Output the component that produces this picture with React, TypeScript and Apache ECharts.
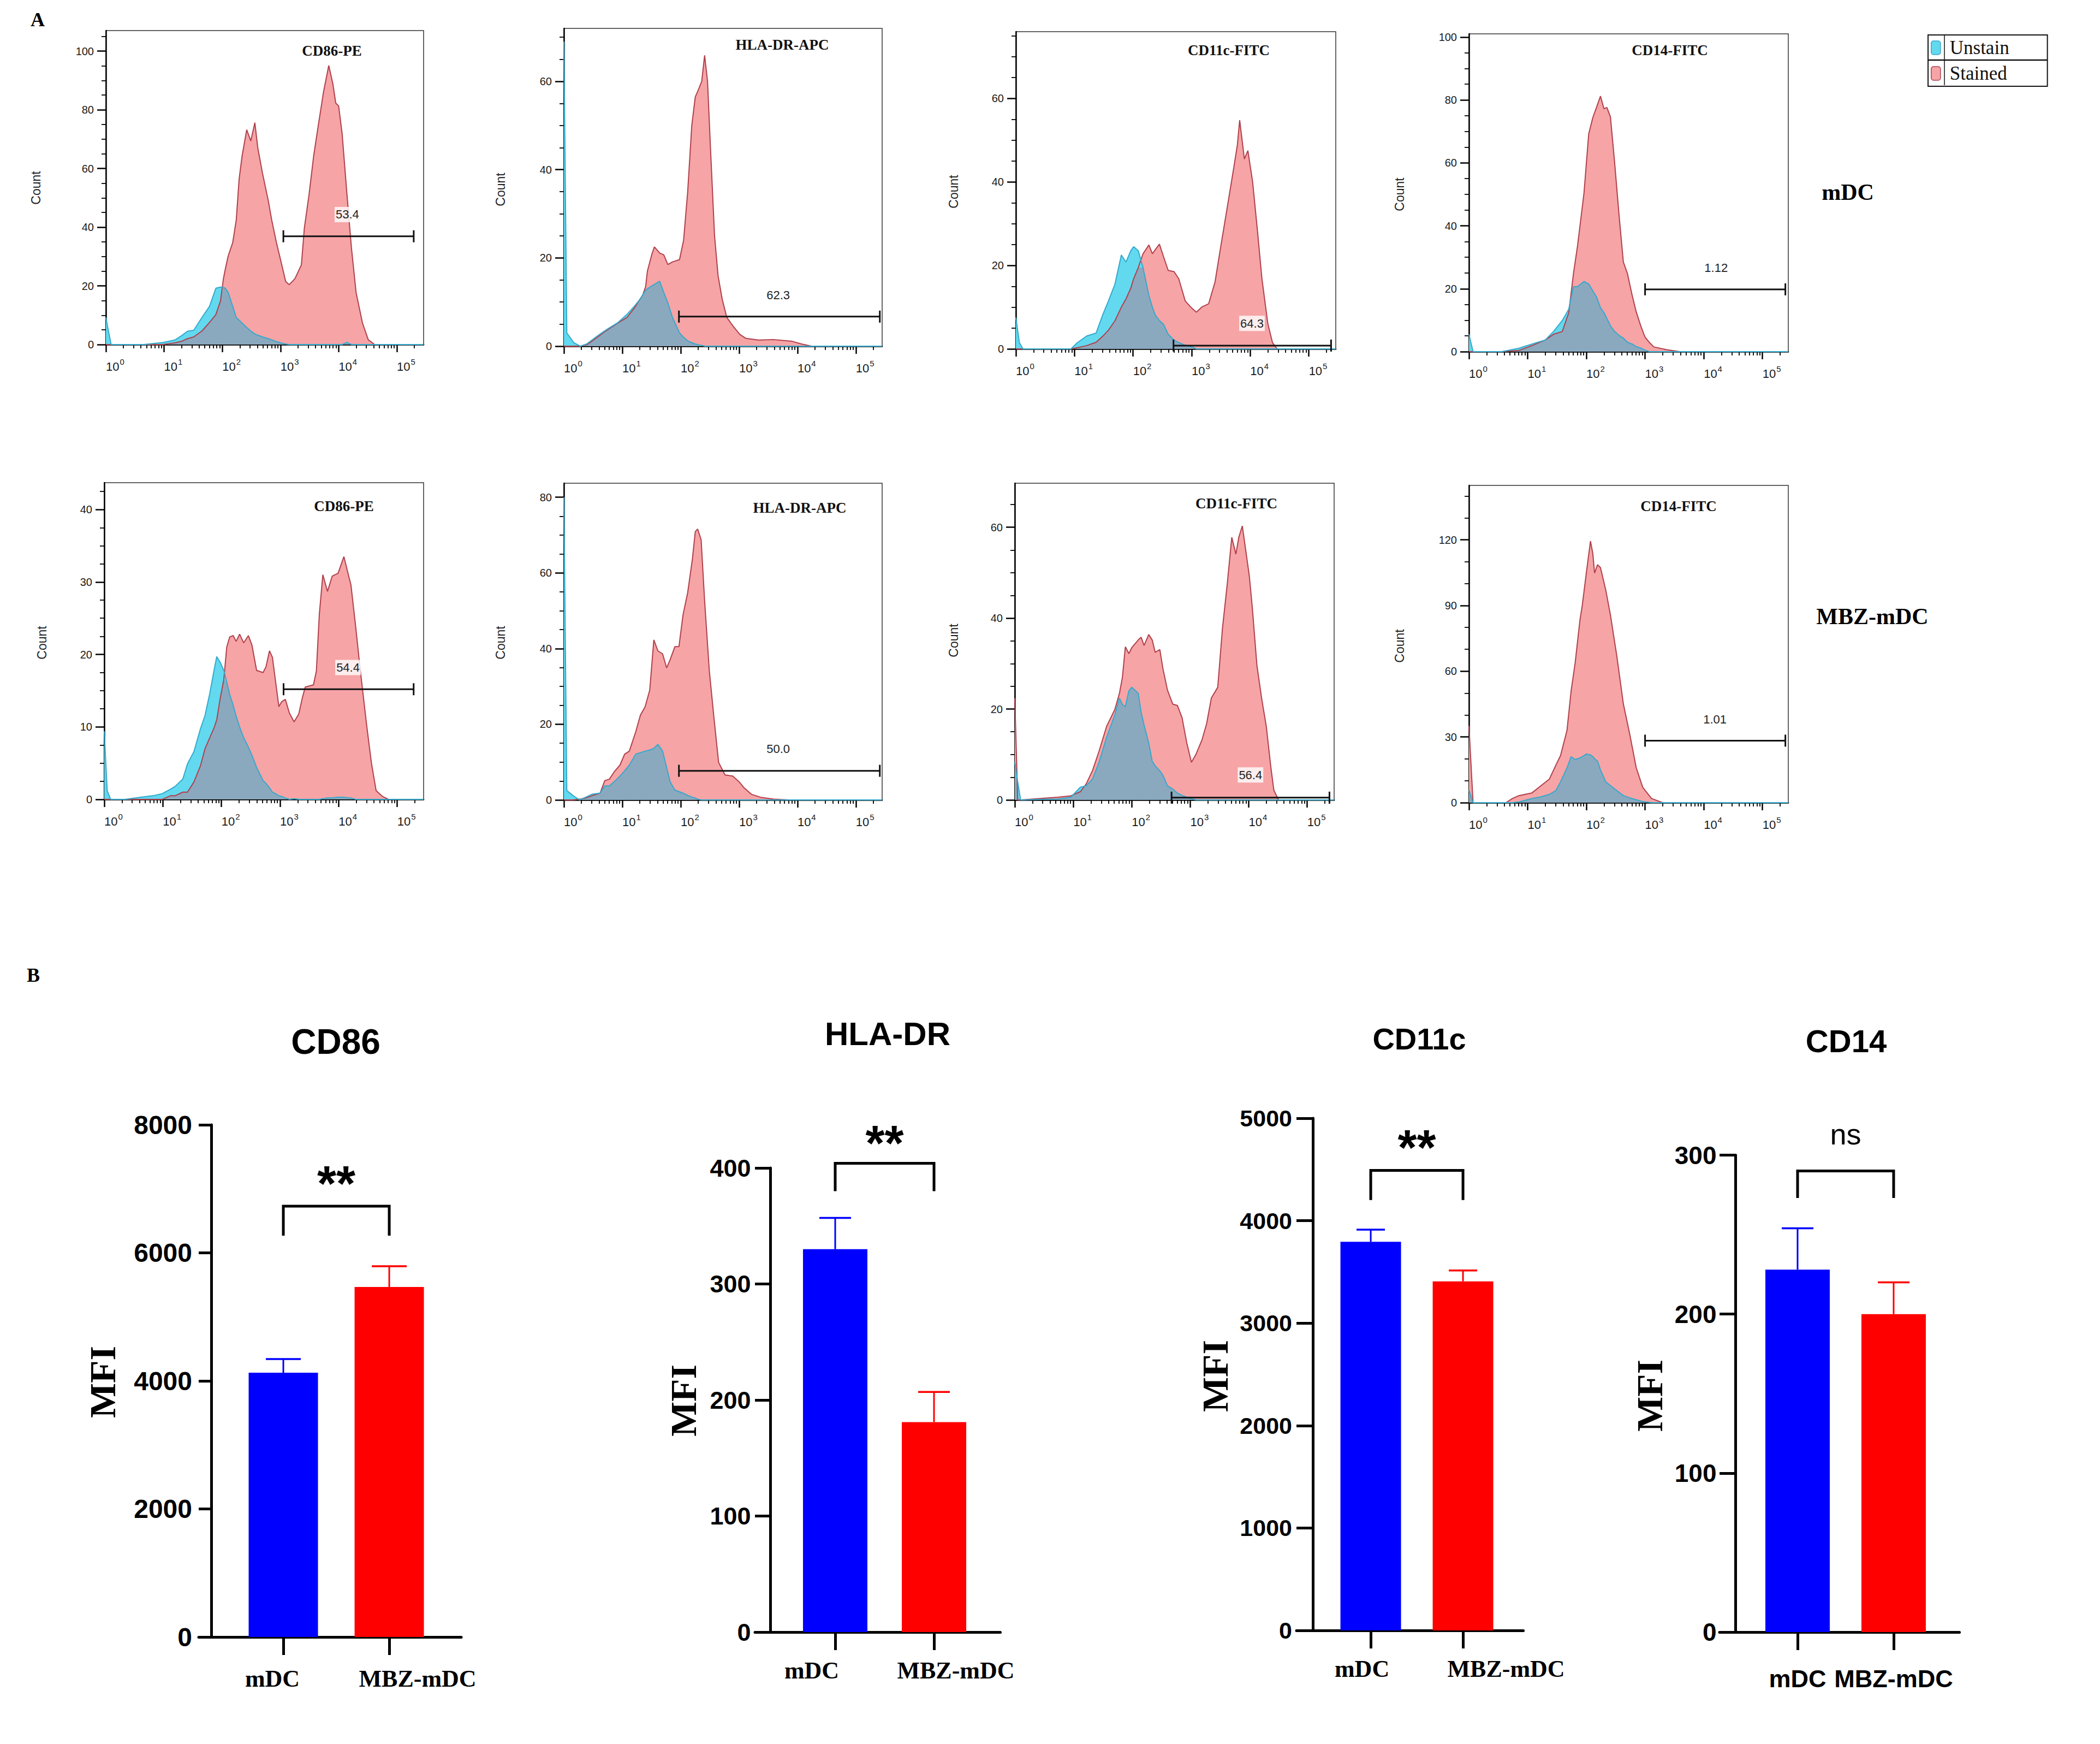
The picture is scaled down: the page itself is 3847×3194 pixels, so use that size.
import React, { useEffect, useRef } from 'react';
import * as echarts from 'echarts';

const SANS = "'Liberation Sans', Arial, Helvetica, sans-serif";
const SERIF = "'Liberation Serif', 'Times New Roman', Times, serif";

// ================= Panel A : flow cytometry histograms =================
const PANEL_LETTERS = ['A', 'B'];
const HIST_TITLES = ['CD86-PE', 'HLA-DR-APC', 'CD11c-FITC', 'CD14-FITC', 'CD86-PE', 'HLA-DR-APC', 'CD11c-FITC', 'CD14-FITC'];
const ROW_LABELS = ['mDC', 'MBZ-mDC'];
const LEGEND_NAMES = ['Unstain', 'Stained'];
const HIST_Y_NAME = 'Count';
const DECADE_TICKS = [0, 1, 2, 3, 4, 5];
const DECADE_EXPONENTS = ['0', '1', '2', '3', '4', '5'];

// x = log10(fluorescence), counts
const H1_X = [0, 0.04, 0.09, 0.65, 0.98, 1.19, 1.3, 1.4, 1.51, 1.65, 1.78, 1.89, 1.97, 2.02, 2.05, 2.1, 2.18, 2.24, 2.29, 2.34, 2.42, 2.49, 2.56, 2.61, 2.69, 2.79, 2.85, 2.93, 3.01, 3.09, 3.15, 3.25, 3.36, 3.41, 3.49, 3.57, 3.65, 3.74, 3.83, 3.9, 3.95, 4.0, 4.06, 4.14, 4.22, 4.3, 4.41, 4.51, 4.62, 5.46];
const H1_STAINED = [0, 0, 0, 0, 0, 0.6, 1.1, 2.0, 2.6, 4.6, 7.5, 10.2, 14.9, 22.5, 25.5, 30.1, 34.8, 42.4, 56.5, 64.2, 73.2, 69.4, 75.6, 67.1, 58.5, 49.1, 42.4, 34.8, 28.2, 21.5, 20.4, 22.5, 27.2, 39.6, 50.9, 64.2, 74.7, 86.1, 95.1, 88.9, 82.3, 81.3, 71.8, 51.9, 32.9, 17.7, 7.3, 1.6, 0, 0];
const H1_UNSTAIN = [9.2, 5.0, 0, 0, 0.7, 1.6, 3.0, 4.5, 4.9, 9.2, 13.0, 19.2, 19.6, 19.4, 19.2, 17.8, 13.0, 9.2, 8.3, 7.3, 5.8, 4.6, 3.6, 3.2, 2.6, 2.0, 1.6, 1.0, 0.5, 0.2, 0, 0, 0, 0, 0, 0, 0, 0, 0, 0, 0, 0, 0, 0.7, 0, 0, 0, 0, 0, 0];

const H2_X = [0, 0.05, 0.17, 0.28, 0.39, 0.55, 0.68, 0.76, 0.92, 1.08, 1.21, 1.29, 1.35, 1.4, 1.43, 1.51, 1.55, 1.64, 1.71, 1.78, 1.86, 1.98, 2.05, 2.12, 2.19, 2.25, 2.3, 2.36, 2.41, 2.46, 2.51, 2.58, 2.64, 2.71, 2.79, 2.9, 3.01, 3.11, 3.33, 3.59, 3.91, 4.07, 4.24, 5.45];
const H2_STAINED = [0, 0, 0, 0, 0.3, 1.8, 3.1, 3.8, 5.2, 6.5, 8.7, 10.4, 11.6, 13.5, 17.0, 21.0, 22.5, 21.1, 20.7, 18.5, 19.1, 19.6, 24.0, 35.0, 50.0, 56.5, 58.0, 60.0, 65.9, 60.0, 45.0, 25.0, 16.0, 10.7, 6.5, 4.5, 2.7, 1.8, 1.4, 1.5, 1.1, 0.5, 0, 0];
const H2_UNSTAIN = [69, 3.0, 0.8, 0, 0.5, 2.1, 3.3, 4.0, 5.3, 7.2, 9.1, 10.4, 11.6, 12.7, 13.0, 13.7, 14.0, 14.7, 12.2, 9.8, 6.5, 3.0, 2.0, 1.2, 0.8, 0.5, 0.3, 0.2, 0, 0, 0, 0, 0, 0, 0, 0, 0, 0, 0, 0, 0, 0, 0, 0];

const H3_X = [0, 0.06, 0.12, 0.94, 1.05, 1.21, 1.37, 1.48, 1.58, 1.69, 1.8, 1.88, 1.96, 2.01, 2.09, 2.17, 2.27, 2.33, 2.38, 2.45, 2.52, 2.6, 2.7, 2.78, 2.89, 3.0, 3.08, 3.18, 3.29, 3.4, 3.5, 3.61, 3.72, 3.78, 3.82, 3.9, 3.96, 4.04, 4.12, 4.2, 4.3, 4.38, 4.46, 5.46];
const H3_STAINED = [0, 0, 0, 0, 0.3, 0.8, 1.6, 3.0, 4.5, 6.7, 10.0, 12.0, 14.5, 16.8, 19.5, 22.8, 24.9, 22.8, 23.8, 25.1, 22.1, 18.8, 18.5, 16.8, 11.5, 9.8, 8.8, 10.1, 10.8, 16.1, 24.8, 34.1, 43.5, 48.8, 54.8, 45.5, 47.5, 40.1, 28.8, 16.8, 6.1, 1.5, 0, 0];
const H3_UNSTAIN = [7.5, 1.5, 0, 0, 1.5, 3.1, 3.8, 8.1, 11.5, 15.5, 22.5, 20.8, 23.5, 24.5, 23.5, 19.5, 12.8, 10.0, 8.1, 6.8, 5.9, 3.5, 2.1, 1.5, 0.9, 0.5, 0, 0, 0, 0, 0, 0, 0, 0, 0, 0, 0, 0, 0, 0, 0, 0, 0, 0];

const H4_X = [0, 0.07, 0.56, 0.85, 1.07, 1.3, 1.44, 1.59, 1.7, 1.78, 1.85, 1.96, 2.04, 2.11, 2.17, 2.24, 2.3, 2.35, 2.41, 2.48, 2.56, 2.63, 2.7, 2.78, 2.85, 2.93, 3.0, 3.07, 3.15, 3.37, 3.59, 5.44];
const H4_STAINED = [0, 0, 0, 0.4, 1.9, 3.7, 5.5, 6.4, 12.4, 24.8, 33.7, 50.5, 69.2, 74.4, 77.5, 81.2, 77.2, 77.6, 74.6, 60.4, 42.7, 28.5, 24.8, 17.9, 12.6, 8.0, 4.6, 3.0, 1.5, 0.6, 0, 0];
const H4_UNSTAIN = [5.5, 0, 0, 1.1, 2.4, 3.7, 6.4, 9.9, 13.5, 20.6, 20.7, 22.3, 21.5, 19.3, 17.5, 14.0, 12.4, 10.5, 8.2, 6.4, 5.1, 4.3, 3.0, 2.4, 1.6, 1.1, 0.5, 0, 0, 0, 0, 0];

const H5_X = [0, 0.05, 0.11, 0.35, 0.62, 0.83, 0.99, 1.13, 1.21, 1.34, 1.42, 1.53, 1.64, 1.72, 1.8, 1.88, 1.92, 1.98, 2.04, 2.09, 2.14, 2.2, 2.25, 2.31, 2.38, 2.46, 2.52, 2.6, 2.71, 2.76, 2.82, 2.87, 2.92, 2.98, 3.03, 3.09, 3.16, 3.24, 3.32, 3.38, 3.43, 3.57, 3.62, 3.67, 3.73, 3.81, 3.89, 3.99, 4.09, 4.16, 4.21, 4.29, 4.37, 4.42, 4.48, 4.56, 4.64, 4.75, 4.85, 5.45];
const H5_STAINED = [0, 0, 0, 0, 0, 0, 0, 0.5, 0.5, 1.0, 1.0, 2.4, 4.6, 7.0, 8.5, 10.0, 11.0, 14.0, 16.5, 21.0, 22.4, 22.6, 21.8, 22.8, 21.6, 22.6, 21.3, 17.8, 17.5, 18.3, 20.5, 19.6, 16.5, 12.8, 13.5, 13.8, 11.9, 10.7, 11.8, 14.0, 15.5, 15.8, 17.7, 25.5, 31.0, 28.7, 30.8, 31.2, 33.5, 31.2, 29.6, 23.9, 17.8, 14.3, 10.1, 5.0, 1.2, 0.4, 0, 0];
const H5_UNSTAIN = [9.4, 1.2, 0, 0, 0.3, 0.5, 0.8, 1.4, 1.8, 2.8, 4.9, 6.6, 9.7, 11.6, 14.6, 18.1, 19.7, 18.9, 17.8, 16.2, 14.5, 13.0, 11.5, 10.0, 8.5, 7.2, 6.1, 4.4, 2.6, 2.2, 1.6, 1.0, 0.8, 0.5, 0.4, 0.2, 0, 0.1, 0, 0, 0, 0, 0, 0, 0.1, 0.2, 0.2, 0.3, 0.3, 0.2, 0.2, 0, 0, 0, 0, 0, 0, 0, 0, 0];

const H6_X = [0, 0.05, 0.16, 0.27, 0.37, 0.48, 0.62, 0.7, 0.78, 0.86, 0.96, 1.04, 1.12, 1.23, 1.31, 1.39, 1.47, 1.54, 1.61, 1.69, 1.76, 1.82, 1.9, 1.97, 2.04, 2.12, 2.2, 2.25, 2.29, 2.35, 2.41, 2.49, 2.57, 2.65, 2.76, 2.89, 3.0, 3.08, 3.21, 3.37, 3.59, 3.86, 5.45];
const H6_STAINED = [0, 0, 0, 0.2, 0.5, 1.1, 1.8, 5.1, 5.5, 7.4, 9.2, 12.1, 12.9, 18.0, 22.4, 24.6, 29.0, 42.3, 39.4, 38.6, 34.9, 37.1, 40.5, 40.5, 48.9, 54.8, 63.6, 70.9, 71.6, 68.8, 52.6, 34.2, 21.7, 9.9, 6.6, 6.3, 4.8, 3.3, 1.5, 0.7, 0.2, 0, 0];
const H6_UNSTAIN = [80, 2.5, 1.1, 0, 0.7, 1.5, 1.8, 3.7, 3.7, 4.8, 6.3, 7.7, 9.2, 12.1, 12.5, 12.9, 13.2, 13.6, 14.7, 12.9, 8.5, 4.8, 2.6, 2.2, 1.8, 1.2, 0.7, 0.5, 0.2, 0, 0, 0, 0, 0, 0, 0, 0, 0, 0, 0, 0, 0, 0];

const H7_X = [0, 0.05, 0.1, 0.74, 0.96, 1.12, 1.22, 1.33, 1.44, 1.57, 1.71, 1.79, 1.84, 1.89, 1.95, 2.0, 2.11, 2.16, 2.21, 2.29, 2.35, 2.4, 2.48, 2.53, 2.61, 2.7, 2.78, 2.86, 2.94, 3.02, 3.1, 3.2, 3.28, 3.36, 3.47, 3.55, 3.63, 3.71, 3.78, 3.83, 3.89, 3.95, 4.01, 4.06, 4.14, 4.22, 4.3, 4.38, 4.43, 4.51, 5.46];
const H7_STAINED = [22.4, 0, 0, 0.6, 0.9, 1.8, 3.5, 6.5, 10.7, 16.2, 19.9, 23.5, 27.0, 33.7, 32.2, 33.5, 35.2, 35.8, 34.0, 36.4, 35.2, 32.5, 33.1, 29.1, 24.2, 21.1, 20.8, 18.1, 12.6, 8.3, 10.1, 13.2, 16.8, 22.4, 24.8, 37.7, 47.2, 57.8, 54.1, 57.8, 60.3, 54.8, 49.3, 42.5, 29.6, 22.4, 16.2, 7.0, 2.1, 0, 0];
const H7_UNSTAIN = [8.3, 4.0, 0, 0.2, 0.6, 2.8, 3.1, 4.6, 8.3, 13.8, 18.7, 22.4, 21.0, 20.5, 24.0, 24.8, 23.5, 19.3, 16.5, 12.5, 8.5, 7.5, 6.4, 5.5, 3.1, 2.4, 1.5, 1.0, 0.6, 0.2, 0, 0, 0, 0, 0, 0, 0, 0, 0, 0, 0, 0, 0, 0, 0, 0, 0, 0, 0, 0, 0];

const H8_X = [0, 0.07, 0.63, 0.74, 0.85, 1.07, 1.22, 1.37, 1.48, 1.56, 1.67, 1.74, 1.81, 1.89, 1.93, 2.0, 2.07, 2.11, 2.14, 2.19, 2.24, 2.33, 2.41, 2.52, 2.63, 2.74, 2.85, 2.96, 3.11, 3.3, 5.44];
const H8_STAINED = [35, 0, 0, 1.9, 3.2, 4.4, 7.6, 10.8, 17.1, 21.5, 33.0, 51.0, 64.0, 83.2, 90.0, 105, 119.4, 113.7, 104.8, 108.6, 107.3, 97.1, 85.7, 66.7, 45.1, 31.1, 15.9, 7.0, 1.9, 0, 0];
const H8_UNSTAIN = [5.7, 0, 0, 0, 0.3, 1.9, 2.6, 3.8, 5.5, 9.5, 15.9, 21.0, 19.7, 20.4, 21.0, 22.2, 21.8, 21.0, 20.0, 19.0, 15.0, 9.5, 7.8, 5.5, 3.2, 2.2, 1.3, 0.5, 0, 0, 0];

const HIST_X = [H1_X, H2_X, H3_X, H4_X, H5_X, H6_X, H7_X, H8_X];
const HIST_STAINED = [H1_STAINED, H2_STAINED, H3_STAINED, H4_STAINED, H5_STAINED, H6_STAINED, H7_STAINED, H8_STAINED];
const HIST_UNSTAIN = [H1_UNSTAIN, H2_UNSTAIN, H3_UNSTAIN, H4_UNSTAIN, H5_UNSTAIN, H6_UNSTAIN, H7_UNSTAIN, H8_UNSTAIN];

// gates: [start, end, count level]; label [x, count]; percentage
const GATE_RANGES = [[3.05, 5.29, 36.9], [1.97, 5.41, 6.7], [2.69, 5.38, 0.8], [3.0, 5.39, 19.8], [3.06, 5.28, 15.2], [1.97, 5.41, 7.7], [2.68, 5.38, 0.5], [3.0, 5.39, 28.3]];
const GATE_LABEL_POS = [[4.15, 44.3], [3.67, 11.6], [4.03, 6.1], [4.21, 26.6], [4.16, 18.2], [3.67, 13.5], [4.03, 5.5], [4.19, 38.1]];
const GATE_PCT = ['53.4', '62.3', '64.3', '1.12', '54.4', '50.0', '56.4', '1.01'];

const HIST_YTICKS = [[0, 20, 40, 60, 80, 100], [0, 20, 40, 60], [0, 20, 40, 60], [0, 20, 40, 60, 80, 100], [0, 10, 20, 30, 40], [0, 20, 40, 60, 80], [0, 20, 40, 60], [0, 30, 60, 90, 120]];
const HIST_YMAX = [107, 72, 76, 101, 43.7, 83.7, 69.7, 144.8];
const HIST_XMAX = [5.46, 5.45, 5.46, 5.44, 5.45, 5.45, 5.46, 5.44];

// ================= Panel B : MFI bar charts =================
const BAR_TITLES = ['CD86', 'HLA-DR', 'CD11c', 'CD14'];
const BAR_GROUPS = ['mDC', 'MBZ-mDC'];
const BAR_Y_NAME = 'MFI';
const BAR_MEANS = [[4128, 5467], [330, 181], [3794, 3408], [228, 200]];
const BAR_ERRORS = [[213, 324], [27, 26], [118, 106], [26, 20]];
const BAR_YTICKS = [[0, 2000, 4000, 6000, 8000], [0, 100, 200, 300, 400], [0, 1000, 2000, 3000, 4000, 5000], [0, 100, 200, 300]];
const BRACKETS = [[6729, 6269], [404, 380], [4491, 4202], [290, 273]];
const SIGNIF = ['**', '**', '**', 'ns'];

// ---------- layout / style ----------
const PINK_FILL = '#F6A4A6';
const RED_LINE = '#B0404C';
const CYAN_FILL = '#62D9EF';
const CYAN_LINE = '#35A9CC';
const OVERLAP_FILL = '#8AA9BF';
const GROUP_COLORS = ['#0000FF', '#FF0000'];

const HIST_GRIDS = [
  { left: 194, top: 56, width: 582, height: 575 },
  { left: 1033, top: 52, width: 583, height: 582 },
  { left: 1861, top: 58, width: 586, height: 581 },
  { left: 2691, top: 62, width: 585, height: 582 },
  { left: 191, top: 884, width: 585, height: 580 },
  { left: 1033, top: 885, width: 583, height: 580 },
  { left: 1859, top: 885, width: 585, height: 580 },
  { left: 2691, top: 889, width: 585, height: 581 },
];
const HIST_MINOR_SPLIT = [4, 4, 4, 4, 4, 4, 4, 3];
const HIST_TITLE_POS = [[608, 93], [1433, 82], [2251, 92], [3059, 92], [630, 927], [1465, 930], [2265, 922], [3075, 927]];
const COUNT_POS = [[66, 344], [917, 347], [1747, 351], [2564, 356], [77, 1177], [917, 1177], [1747, 1173], [2564, 1183]];
const ROW_LABEL_POS = [[3385, 352], [3430, 1129]];
const LETTER_POS = [[69, 36], [61, 1786]];

const BAR_LAYOUT = [
  { left: 364, top: 2060, width: 481, height: 938, yOff: 23, xMin: -0.799, xMax: 1.68, barW: 127, cap: 32, tickSize: 48, lblMargin: 35, catFamily: SERIF, catSize: 44, catShift: [-20, 52], catMargin: 54, title: [615, 1908, 64], mfi: [188, 2531], sigOff: 41, sigSize: 90 },
  { left: 1383, top: 2139, width: 449.5, height: 850, yOff: 28.5, xMin: -0.812, xMax: 1.671, barW: 118, cap: 29, tickSize: 45, lblMargin: 36, catFamily: SERIF, catSize: 44, catShift: [-43, 40], catMargin: 48, title: [1626, 1893, 60], mfi: [1252, 2565], sigOff: 37, sigSize: 90 },
  { left: 2375, top: 2048, width: 415.6, height: 938, yOff: 30, xMin: -0.805, xMax: 1.654, barW: 111, cap: 26, tickSize: 43, lblMargin: 38, catFamily: SERIF, catSize: 44, catShift: [-16, 79], catMargin: 48, title: [2600, 1902, 56], mfi: [2226, 2520], sigOff: 41, sigSize: 90 },
  { left: 3150, top: 2115.5, width: 439.5, height: 873.5, yOff: 29, xMin: -0.8125, xMax: 1.685, barW: 118, cap: 29, tickSize: 46, lblMargin: 34.5, catFamily: SANS, catSize: 45, catShift: [0, 0], catMargin: 63, title: [3382, 1906, 58], mfi: [3021.5, 2556], sigOff: 68, sigSize: 54 },
];

function txt(text: string, x: number, y: number, size: number, family: string, weight: string = 'normal', color: string = '#000', rotation: number = 0) {
  return {
    type: 'text', x, y, rotation, silent: true, z: 50,
    style: { text, fontSize: size, fontFamily: family, fontWeight: weight, fill: color, align: 'center', verticalAlign: 'middle', textAlign: 'center', textVerticalAlign: 'middle' },
  };
}

function buildOption() {
  const grid: any[] = [];
  const xAxis: any[] = [];
  const yAxis: any[] = [];
  const series: any[] = [];
  const graphic: any[] = [];

  // ---------- histograms ----------
  HIST_GRIDS.forEach((g, i) => {
    grid.push({ ...g, show: true, borderColor: '#333', borderWidth: 1.5, backgroundColor: 'transparent', containLabel: false });
    const xmax = HIST_XMAX[i];
    const xMinor: number[] = [];
    for (let n = 0; n <= 5; n++) {
      for (let k = 2; k <= 9; k++) {
        const v = n + Math.log10(k);
        if (v < xmax) xMinor.push(v);
      }
    }
    xAxis.push({
      gridIndex: i, type: 'value', position: 'bottom', min: 0, max: xmax, splitLine: { show: false },
      axisLine: { show: true, onZero: false, lineStyle: { color: '#000', width: 2.5 } },
      axisTick: { show: true, length: 14, lineStyle: { color: '#000', width: 2.5 }, customValues: DECADE_TICKS },
      axisLabel: {
        show: true, customValues: DECADE_TICKS, align: 'left', margin: 24,
        formatter: (v: number) => `{b|10}{s|${DECADE_EXPONENTS[Math.round(v)]}}`,
        rich: {
          b: { fontSize: 22, fontFamily: SANS, color: '#1a1a1a', verticalAlign: 'bottom' },
          s: { fontSize: 15, fontFamily: SANS, color: '#1a1a1a', verticalAlign: 'top', padding: [0, 0, 12, 1] },
        },
      },
    });
    xAxis.push({
      gridIndex: i, type: 'value', position: 'bottom', min: 0, max: xmax, splitLine: { show: false },
      axisLine: { show: false, onZero: false },
      axisTick: { show: true, length: 7, lineStyle: { color: '#000', width: 1.8 }, customValues: xMinor },
      axisLabel: { show: false },
    });
    const ticks = HIST_YTICKS[i];
    const step = ticks[1] - ticks[0];
    const sub = step / HIST_MINOR_SPLIT[i];
    const yMinor: number[] = [];
    for (let v = sub; v < HIST_YMAX[i]; v += sub) {
      const r = Math.round(v * 1000) / 1000;
      if (Math.abs(r / step - Math.round(r / step)) > 1e-6) yMinor.push(r);
    }
    yAxis.push({
      gridIndex: i, type: 'value', position: 'left', min: 0, max: HIST_YMAX[i], splitLine: { show: false },
      axisLine: { show: true, onZero: false, lineStyle: { color: '#000', width: 2.5 } },
      axisTick: { show: true, length: 16, lineStyle: { color: '#000', width: 2.5 }, customValues: ticks },
      axisLabel: { show: true, customValues: ticks, fontSize: 20, fontFamily: SANS, color: '#1a1a1a', margin: 22, formatter: (v: number) => String(v) },
    });
    yAxis.push({
      gridIndex: i, type: 'value', position: 'left', min: 0, max: HIST_YMAX[i], splitLine: { show: false },
      axisLine: { show: false, onZero: false },
      axisTick: { show: true, length: 8, lineStyle: { color: '#000', width: 1.8 }, customValues: yMinor },
      axisLabel: { show: false },
    });

    const xs = HIST_X[i];
    const st = HIST_STAINED[i];
    const un = HIST_UNSTAIN[i];
    const stData = xs.map((x, k) => [x, st[k]]);
    const unData = xs.map((x, k) => [x, un[k]]);
    const ovData = xs.map((x, k) => [x, Math.min(st[k], un[k])]);
    const common = { type: 'line', xAxisIndex: 2 * i, yAxisIndex: 2 * i, symbol: 'none', silent: true, smooth: false };
    const noLine = { width: 0, opacity: 0 };
    series.push({ ...common, name: LEGEND_NAMES[1], data: stData, lineStyle: noLine, areaStyle: { color: PINK_FILL, opacity: 1 }, itemStyle: { color: PINK_FILL }, z: 2 });
    series.push({ ...common, name: LEGEND_NAMES[0], data: unData, lineStyle: noLine, areaStyle: { color: CYAN_FILL, opacity: 1 }, itemStyle: { color: CYAN_FILL }, z: 3 });
    series.push({ ...common, name: 'overlap', data: ovData, lineStyle: noLine, areaStyle: { color: OVERLAP_FILL, opacity: 1 }, itemStyle: { color: OVERLAP_FILL }, z: 4 });
    series.push({ ...common, name: LEGEND_NAMES[1], data: stData, lineStyle: { width: 2, color: RED_LINE }, itemStyle: { color: RED_LINE }, z: 5 });
    series.push({ ...common, name: LEGEND_NAMES[0], data: unData, lineStyle: { width: 2, color: CYAN_LINE }, itemStyle: { color: CYAN_LINE }, z: 6 });

    const pct = GATE_PCT[i];
    series.push({
      type: 'custom', xAxisIndex: 2 * i, yAxisIndex: 2 * i, silent: true, clip: false, z: 8,
      data: [[...GATE_RANGES[i], ...GATE_LABEL_POS[i]]],
      encode: { x: [0, 1], y: 2 },
      renderItem: (params: any, api: any) => {
        const y = api.value(2);
        const a = api.coord([api.value(0), y]);
        const b = api.coord([api.value(1), y]);
        const l = api.coord([api.value(3), api.value(4)]);
        const s = { stroke: '#111', lineWidth: 3 };
        return {
          type: 'group',
          children: [
            { type: 'line', shape: { x1: a[0], y1: a[1], x2: b[0], y2: b[1] }, style: s },
            { type: 'line', shape: { x1: a[0], y1: a[1] - 11, x2: a[0], y2: a[1] + 11 }, style: s },
            { type: 'line', shape: { x1: b[0], y1: b[1] - 11, x2: b[0], y2: b[1] + 11 }, style: s },
            {
              type: 'text', x: l[0], y: l[1],
              style: { text: pct, fontSize: 22, fontFamily: SANS, fill: '#222', align: 'center', verticalAlign: 'middle', backgroundColor: 'rgba(255,255,255,0.8)', padding: [3, 2] },
            },
          ],
        };
      },
    });

    graphic.push(txt(HIST_TITLES[i], HIST_TITLE_POS[i][0], HIST_TITLE_POS[i][1], 27, SERIF, 'bold', '#111'));
    graphic.push(txt(HIST_Y_NAME, COUNT_POS[i][0], COUNT_POS[i][1], 23, SANS, 'normal', '#222', Math.PI / 2));
  });

  // ---------- bar charts ----------
  BAR_LAYOUT.forEach((L, j) => {
    const gi = 8 + j;
    const ai = 16 + j;
    const ticks = BAR_YTICKS[j];
    grid.push({ left: L.left, top: L.top, width: L.width, height: L.height, show: false, containLabel: false });
    const rich: any = {};
    BAR_GROUPS.forEach((_, k) => {
      const d = L.catShift[k];
      rich['g' + k] = {
        fontSize: L.catSize, fontFamily: L.catFamily, fontWeight: 'bold', color: '#000',
        padding: d >= 0 ? [0, 0, 0, 2 * d] : [0, -2 * d, 0, 0],
      };
    });
    xAxis.push({
      gridIndex: gi, type: 'value', position: 'bottom', min: L.xMin, max: L.xMax, splitLine: { show: false },
      axisLine: { show: true, onZero: false, lineStyle: { color: '#000', width: 5 } },
      axisTick: { show: true, length: 33, lineStyle: { color: '#000', width: 5 }, customValues: [0, 1] },
      axisLabel: {
        show: true, customValues: [0, 1], margin: L.catMargin, rich,
        formatter: (v: number) => { const k = Math.round(v); return `{g${k}|${BAR_GROUPS[k]}}`; },
      },
    });
    yAxis.push({
      gridIndex: gi, type: 'value', position: 'left', offset: -L.yOff, min: 0, max: ticks[ticks.length - 1], splitLine: { show: false },
      axisLine: { show: true, onZero: false, lineStyle: { color: '#000', width: 5 } },
      axisTick: { show: true, length: L.yOff, lineStyle: { color: '#000', width: 5 }, customValues: ticks },
      axisLabel: { show: true, customValues: ticks, fontSize: L.tickSize, fontFamily: SANS, fontWeight: 'bold', color: '#000', margin: L.lblMargin, formatter: (v: number) => String(v) },
    });
    series.push({
      type: 'bar', xAxisIndex: ai, yAxisIndex: ai, barWidth: L.barW, silent: true, z: 2,
      data: BAR_MEANS[j].map((v, k) => ({ value: [k, v], itemStyle: { color: GROUP_COLORS[k] } })),
    });
    const cap = L.cap;
    series.push({
      type: 'custom', xAxisIndex: ai, yAxisIndex: ai, silent: true, clip: false, z: 3,
      data: BAR_MEANS[j].map((m, k) => [k, m, BAR_ERRORS[j][k]]),
      encode: { x: 0, y: 1 },
      renderItem: (params: any, api: any) => {
        const k = api.value(0);
        const m = api.value(1);
        const e = api.value(2);
        const p0 = api.coord([k, m]);
        const p1 = api.coord([k, m + e]);
        const c = GROUP_COLORS[k];
        return {
          type: 'group',
          children: [
            { type: 'line', shape: { x1: p0[0], y1: p0[1], x2: p1[0], y2: p1[1] }, style: { stroke: c, lineWidth: 3 } },
            { type: 'line', shape: { x1: p1[0] - cap, y1: p1[1], x2: p1[0] + cap, y2: p1[1] }, style: { stroke: c, lineWidth: 3.5 } },
          ],
        };
      },
    });
    const sig = SIGNIF[j];
    series.push({
      type: 'custom', xAxisIndex: ai, yAxisIndex: ai, silent: true, clip: false, z: 4,
      data: [[0, 1, BRACKETS[j][0], BRACKETS[j][1]]],
      encode: { x: [0, 1], y: [2, 3] },
      renderItem: (params: any, api: any) => {
        const top = api.value(2);
        const leg = api.value(3);
        const a0 = api.coord([api.value(0), leg]);
        const a1 = api.coord([api.value(0), top]);
        const b1 = api.coord([api.value(1), top]);
        const b0 = api.coord([api.value(1), leg]);
        return {
          type: 'group',
          children: [
            { type: 'polyline', shape: { points: [a0, a1, b1, b0] }, style: { stroke: '#000', lineWidth: 5, fill: null } },
            {
              type: 'text', x: (a1[0] + b1[0]) / 2, y: a1[1] - L.sigOff,
              style: { text: sig, fontSize: L.sigSize, fontFamily: SANS, fontWeight: sig === 'ns' ? 'normal' : 'bold', fill: '#000', align: 'center', verticalAlign: 'middle' },
            },
          ],
        };
      },
    });
    graphic.push(txt(BAR_TITLES[j], L.title[0], L.title[1], L.title[2], SANS, 'bold', '#000'));
    graphic.push(txt(BAR_Y_NAME, L.mfi[0], L.mfi[1], 68, SERIF, 'bold', '#000', Math.PI / 2));
  });

  // ---------- free texts ----------
  PANEL_LETTERS.forEach((t, i) => graphic.push(txt(t, LETTER_POS[i][0], LETTER_POS[i][1], 36, SERIF, 'bold', '#000')));
  ROW_LABELS.forEach((t, i) => graphic.push(txt(t, ROW_LABEL_POS[i][0], ROW_LABEL_POS[i][1], 42, SERIF, 'bold', '#000')));
  // legend table separators
  graphic.push({ type: 'line', silent: true, z: 50, shape: { x1: 3532, y1: 110, x2: 3750, y2: 110 }, style: { stroke: '#111', lineWidth: 2.5 } });
  graphic.push({ type: 'line', silent: true, z: 50, shape: { x1: 3562, y1: 64, x2: 3562, y2: 156 }, style: { stroke: '#111', lineWidth: 1.5 } });

  return {
    animation: false,
    backgroundColor: '#ffffff',
    grid, xAxis, yAxis, series, graphic,
    legend: {
      data: [
        { name: LEGEND_NAMES[0], itemStyle: { color: CYAN_FILL, borderColor: CYAN_LINE, borderWidth: 1.5 } },
        { name: LEGEND_NAMES[1], itemStyle: { color: PINK_FILL, borderColor: RED_LINE, borderWidth: 1.5 } },
      ],
      orient: 'vertical', left: 3532, top: 64, icon: 'roundRect', itemWidth: 17, itemHeight: 25, itemGap: 12,
      padding: [6, 70, 6, 5], borderColor: '#111', borderWidth: 2, selectedMode: false,
      textStyle: { fontFamily: SERIF, fontSize: 35, color: '#111', padding: [0, 0, 0, 12] },
    },
  };
}

export default function App() {
  const ref = useRef<HTMLDivElement>(null);
  useEffect(() => {
    document.body.style.margin = '0';
    document.body.style.overflow = 'hidden';
    const chart = echarts.init(ref.current as HTMLDivElement, null, { renderer: 'svg' });
    chart.setOption(buildOption() as any);
    return () => chart.dispose();
  }, []);
  return <div ref={ref} style={{ width: 3847, height: 3194 }} />;
}
